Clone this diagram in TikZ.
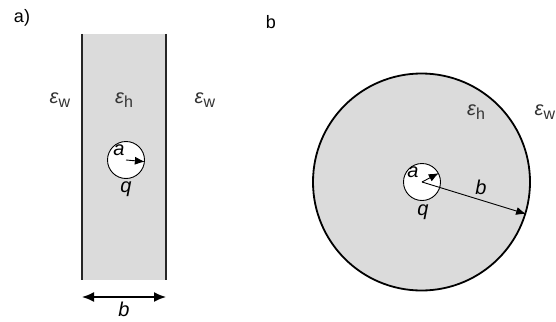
\documentclass[tikz,border=0pt]{standalone}
\usepackage{fontspec}
\setmainfont{Liberation Sans}
\usetikzlibrary{arrows.meta}
\begin{document}
\begin{tikzpicture}[x=1pt,y=-1pt,
  lbl/.style={font=\fontsize{20}{22}\selectfont\itshape, inner sep=0pt},
  eps/.style={font=\fontsize{20}{22}\selectfont, inner sep=0pt, text=black!80},
  tag/.style={font=\fontsize{18}{20}\selectfont, inner sep=0pt},
  hole/.style={draw=black, line width=0.9pt, fill=white, circle, minimum size=37pt, inner sep=0pt},
  arr/.style={-{Latex[length=10pt,width=8pt]}, line width=0.9pt},
  dblarr/.style={{Latex[length=12pt,width=10pt]}-{Latex[length=12pt,width=10pt]}, line width=1.6pt}]
\useasboundingbox (0,0) rectangle (556,321);
% panel a
\fill[black!14] (82,34) rectangle (166,280);
\draw[line width=1.1pt, black!85] (82,34) -- (82,280);
\draw[line width=1.1pt, black!85] (166,34) -- (166,280);
\node[tag] (ta) at (22,18) {a)};
\node[eps] (ewl) at (60,100) {\textit{ε}\raisebox{-0.35ex}{\fontsize{16}{18}\selectfont w}};
\node[eps] (eha) at (124,100) {\textit{ε}\raisebox{-0.35ex}{\fontsize{16}{18}\selectfont h}};
\node[eps] (ewr) at (205,100) {\textit{ε}\raisebox{-0.35ex}{\fontsize{16}{18}\selectfont w}};
\node[hole] (ha) at (126,160) {};
\node[lbl] (la) at (119,150) {a};
\draw[arr] (ha.center) -- (ha.-5);
\node[lbl] (qa) at (126,189) {q};
\coordinate (bl) at (82,297);
\coordinate (br) at (166,297);
\draw[dblarr] (bl) -- (br);
\node[lbl] (lb) at (124,309) {b};
% panel b
\node[tag] (tb) at (271,22) {b};
\node[circle, draw, line width=1.8pt, fill=black!14, minimum size=217pt, inner sep=0pt] (big) at (421.5,182) {};
\node[hole] (hb) at (422,182) {};
\node[lbl] (lab) at (413,172) {a};
\draw[arr] (hb.center) -- (hb.28);
\draw[arr] (hb.center) -- (big.-17);
\node[lbl] (lbb) at (481,187) {b};
\node[lbl] (qb) at (423,212) {q};
\node[eps] (ehb) at (476,112) {\textit{ε}\raisebox{-0.35ex}{\fontsize{16}{18}\selectfont h}};
\node[eps] (ewb) at (545,112) {\textit{ε}\raisebox{-0.35ex}{\fontsize{16}{18}\selectfont w}};
\end{tikzpicture}
\end{document}
